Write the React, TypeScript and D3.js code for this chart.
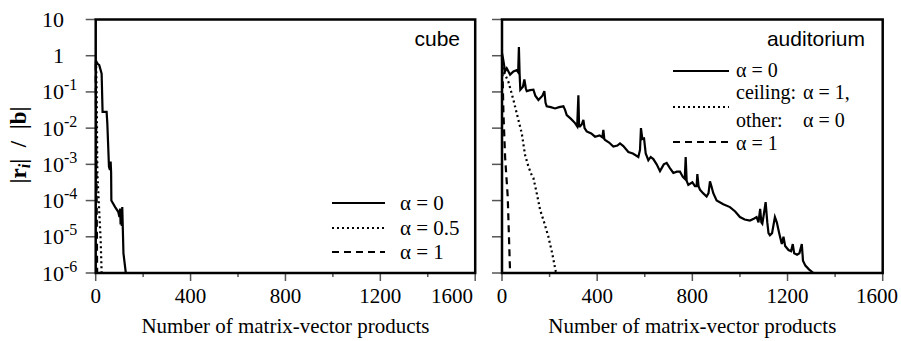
import React from 'react';
import * as d3 from 'd3';

// ---------- data ----------
const xTicksMajor = [0, 400, 800, 1200, 1600];
const xTicksMinor = [200, 600, 1000, 1400];
const yTickExps = [1, 0, -1, -2, -3, -4, -5, -6];

// cube, alpha = 0
const cubeA0N = [0, 8, 15, 25, 29, 46, 49, 56, 60, 63, 65, 66, 82, 95, 100, 103, 105, 108, 110, 112, 117, 127];
const cubeA0V = [0.75, 0.6, 0.55, 0.32, 0.028, 0.028, 0.0135, 0.00085, 0.0007, 0.0012, 0.0006, 0.0001, 0.000066, 0.000049, 0.000035, 0.00006, 0.000022, 0.00006, 0.00002, 0.000066, 0.0000035, 0.000001];
// cube, alpha = 0.5
const cubeA05N = [0, 2, 4, 7, 14, 21, 25];
const cubeA05V = [0.7, 0.5, 0.11, 0.00056, 0.000066, 0.000008, 0.000001];
// cube, alpha = 1
const cubeA1N = [0, 2, 4, 6];
const cubeA1V = [0.6, 0.01, 0.0001, 0.000001];

// auditorium, alpha = 0
const audA0N = [0, 5, 13, 20, 34, 48, 62, 68, 71, 74, 77, 88, 94, 100, 104, 118, 132, 140, 153, 170, 178, 183, 188, 205, 223, 240, 258, 265, 272, 290, 307, 316, 321, 324, 328, 335, 342, 347, 356, 375, 391, 410, 422, 426, 430, 433, 450, 468, 485, 496, 510, 531, 550, 573, 580, 584, 590, 597, 604, 615, 625, 636, 650, 664, 680, 692, 705, 720, 735, 748, 760, 768, 772, 776, 783, 800, 811, 818, 821, 826, 832, 845, 860, 868, 874, 880, 888, 902, 930, 958, 980, 1000, 1020, 1042, 1060, 1070, 1078, 1085, 1090, 1094, 1100, 1108, 1115, 1120, 1126, 1135, 1147, 1155, 1165, 1176, 1183, 1190, 1204, 1215, 1222, 1228, 1240, 1250, 1260, 1265, 1275, 1290, 1309, 1320];
const audA0V = [1.17, 0.79, 0.37, 0.45, 0.3, 0.37, 0.4, 0.35, 1.74, 0.32, 0.115, 0.14, 0.22, 0.126, 0.105, 0.112, 0.115, 0.079, 0.06, 0.079, 0.105, 0.05, 0.04, 0.038, 0.035, 0.038, 0.04, 0.032, 0.023, 0.018, 0.0138, 0.0112, 0.081, 0.0112, 0.0112, 0.0126, 0.017, 0.01, 0.0081, 0.0071, 0.0058, 0.0063, 0.0056, 0.0089, 0.005, 0.0047, 0.004, 0.0031, 0.0033, 0.0038, 0.0032, 0.0022, 0.002, 0.0016, 0.0025, 0.01, 0.005, 0.0052, 0.002, 0.0013, 0.0016, 0.0014, 0.001, 0.00065, 0.001, 0.0011, 0.0008, 0.00058, 0.00063, 0.00063, 0.00045, 0.0004, 0.0016, 0.00035, 0.00027, 0.00032, 0.00025, 0.00025, 0.00054, 0.00025, 0.0002, 0.00016, 0.00013, 0.00016, 0.00034, 0.00025, 0.00016, 0.0001, 0.000079, 0.000066, 0.00005, 0.000035, 0.00003, 0.000028, 0.000032, 0.000035, 0.000025, 0.000059, 0.000025, 0.000023, 0.00004, 0.000091, 0.000025, 0.0000126, 0.000011, 0.0000126, 0.000035, 0.000025, 0.0000126, 0.0000063, 0.00001, 0.0000056, 0.0000043, 0.000004, 0.0000063, 0.0000035, 0.0000032, 0.0000035, 0.0000063, 0.0000022, 0.0000016, 0.00000126, 0.000001, 0.000001];
// auditorium, ceiling alpha = 1, other alpha = 0
const audMixN = [0, 8, 13, 27, 48, 76, 83, 97, 111, 125, 132, 146, 160, 178, 195, 211, 226, 230];
const audMixV = [0.9, 0.35, 0.3, 0.19, 0.06, 0.011, 0.0072, 0.0018, 0.00087, 0.0005, 0.00042, 0.00016, 0.000056, 0.000024, 0.00001, 0.0000035, 0.0000011, 0.000001];
// auditorium, alpha = 1
const audA1N = [0, 3, 6, 13, 24, 34];
const audA1V = [0.9, 0.2, 0.026, 0.0016, 0.00013, 0.000001];

// ---------- layout ----------
const W = 901, H = 341;
const TOP = 19.5, BOTTOM = 273;
const SERIF = '"Liberation Serif", "Times New Roman", serif';
const SANS = '"Liberation Sans", Arial, sans-serif';

const y = d3.scaleLog().domain([1e-6, 10]).range([BOTTOM, TOP]);

type Series = { n: number[]; v: number[]; dash?: string };

function Panel({ x0, x1, series, yLabels, title, titleX, lastLabelAnchor, lastLabelX }: {
  x0: number; x1: number; series: Series[]; yLabels: boolean; title: string; titleX: number; lastLabelAnchor: string; lastLabelX: number;
}) {
  const x = d3.scaleLinear().domain([0, 1600]).range([x0, x1]);
  const line = d3.line<[number, number]>().x(d => x(d[0])).y(d => y(d[1]));
  return (
    <g>
      {series.map((s, i) => (
        <path key={i} d={line(s.n.map((n, k) => [n, s.v[k]]) as [number, number][]) || ''}
          fill="none" stroke="#000" strokeWidth={2.2} strokeDasharray={s.dash}
          strokeLinejoin="miter" />
      ))}
      {yTickExps.map(e => (
        <line key={e} x1={x0 - 10} x2={x0} y1={y(Math.pow(10, e))} y2={y(Math.pow(10, e))} stroke="#555" strokeWidth={1.5} />
      ))}
      {xTicksMajor.map(t => (
        <line key={'M' + t} x1={x(t)} x2={x(t)} y1={BOTTOM} y2={BOTTOM + 8} stroke="#555" strokeWidth={1.5} />
      ))}
      {xTicksMinor.map(t => (
        <line key={'m' + t} x1={x(t)} x2={x(t)} y1={BOTTOM} y2={BOTTOM + 4} stroke="#555" strokeWidth={1.5} />
      ))}
      <rect x={x0} y={TOP} width={x1 - x0} height={BOTTOM - TOP} fill="none" stroke="#000" strokeWidth={2.5} />
      {xTicksMajor.map((t, i) => {
        const last = i === xTicksMajor.length - 1;
        return (
          <text key={'l' + t} x={last ? lastLabelX : x(t)} y={303}
            textAnchor={last ? lastLabelAnchor : 'middle'} fontFamily={SERIF} fontSize={21}>{t}</text>
        );
      })}
      <text x={(x0 + x1) / 2} y={333} textAnchor="middle" fontFamily={SERIF} fontSize={21}
        textLength={288} lengthAdjust="spacingAndGlyphs">Number of matrix-vector products</text>
      {yLabels && yTickExps.map(e => {
        const yy = y(Math.pow(10, e)) + 7.5;
        if (e === 1) return <text key={'y' + e} x={42} y={yy} fontFamily={SERIF} fontSize={22}>10</text>;
        if (e === 0) return <text key={'y' + e} x={53} y={yy} fontFamily={SERIF} fontSize={22}>1</text>;
        return (
          <text key={'y' + e} x={42} y={yy} fontFamily={SERIF} fontSize={22}>10<tspan fontSize={16} dy={-9}>{'-' + (-e)}</tspan></text>
        );
      })}
      <text x={titleX} y={46} textAnchor="end" fontFamily={SANS} fontSize={21}>{title}</text>
    </g>
  );
}

export default function App() {
  const L0 = 95.7, L1 = 475.2, R0 = 502, R1 = 882.7;
  const leftSeries: Series[] = [
    { n: cubeA0N, v: cubeA0V },
    { n: cubeA05N, v: cubeA05V, dash: '2,3' },
    { n: cubeA1N, v: cubeA1V, dash: '7,5' },
  ];
  const rightSeries: Series[] = [
    { n: audA0N, v: audA0V },
    { n: audMixN, v: audMixV, dash: '2,3' },
    { n: audA1N, v: audA1V, dash: '7,5' },
  ];
  const legL = [
    { y: 203, dash: undefined as string | undefined, label: 'α = 0' },
    { y: 228, dash: '2,3', label: 'α = 0.5' },
    { y: 252, dash: '7,5', label: 'α = 1' },
  ];
  const LF = 20;
  return (
    <div style={{ position: 'absolute', left: 0, top: 0 }}>
      <svg width={W} height={H} style={{ display: 'block', background: '#fff' }}>
        <rect width={W} height={H} fill="#fff" />
        <Panel x0={L0} x1={L1} series={leftSeries} yLabels={true} title="cube" titleX={460} lastLabelAnchor="end" lastLabelX={473} />
        <Panel x0={R0} x1={R1} series={rightSeries} yLabels={false} title="auditorium" titleX={865} lastLabelAnchor="end" lastLabelX={898} />
        <text transform="translate(26,145) rotate(-90)" textAnchor="middle" fontFamily={SERIF} fontSize={23} fontWeight="bold" style={{ whiteSpace: 'pre' }}>
          |r<tspan fontStyle="italic" fontSize={16} dy={4}>i</tspan><tspan dy={-4}>|  /  |b|</tspan>
        </text>
        {legL.map((d, i) => (
          <g key={i}>
            <line x1={332} x2={385} y1={d.y} y2={d.y} stroke="#000" strokeWidth={2} strokeDasharray={d.dash} />
            <text x={400} y={d.y + 7} fontFamily={SERIF} fontSize={21}>{d.label}</text>
          </g>
        ))}
        <line x1={673} x2={729} y1={71} y2={71} stroke="#000" strokeWidth={2} />
        <text x={736} y={77} fontFamily={SERIF} fontSize={LF}>α = 0</text>
        <text x={736} y={99} fontFamily={SERIF} fontSize={LF}>ceiling:</text>
        <text x={803} y={99} fontFamily={SERIF} fontSize={LF}>α = 1,</text>
        <line x1={673} x2={729} y1={107} y2={107} stroke="#000" strokeWidth={2} strokeDasharray="2,3" />
        <text x={736} y={127} fontFamily={SERIF} fontSize={LF}>other:</text>
        <text x={803} y={127} fontFamily={SERIF} fontSize={LF}>α = 0</text>
        <line x1={673} x2={729} y1={142} y2={142} stroke="#000" strokeWidth={2} strokeDasharray="7,5" />
        <text x={736} y={150} fontFamily={SERIF} fontSize={LF}>α = 1</text>
      </svg>
    </div>
  );
}
